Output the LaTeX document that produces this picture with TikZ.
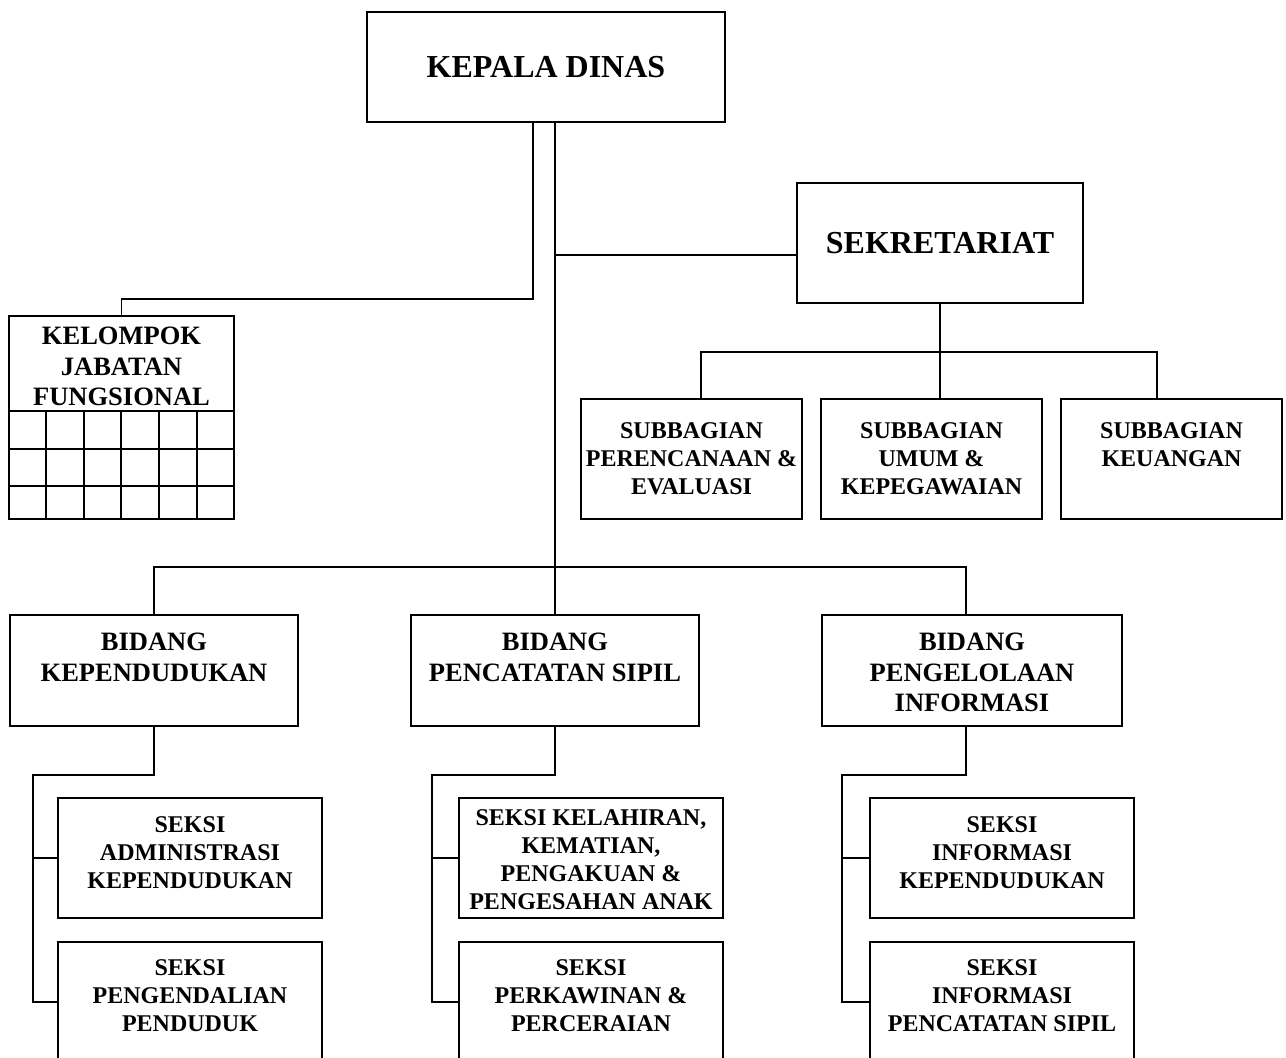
\documentclass[tikz,border=0pt]{standalone}
\usepackage{fontspec}
\setmainfont{Liberation Serif}
\begin{document}
\begin{tikzpicture}[x=1pt,y=-1pt,line width=1.8pt,
  orgbox/.style={draw,rectangle,inner sep=0pt},
  txt/.style={inner sep=0pt,align=center,anchor=north},
  bigfont/.style={font=\fontsize{32}{36}\selectfont\bfseries},
  midfont/.style={font=\fontsize{26.5}{30.5}\selectfont\bfseries},
  smallfont/.style={font=\fontsize{24}{27.7}\selectfont\bfseries}]

\clip (0,0) rectangle (1286,1058);

% head and secretariat
\node[orgbox,bigfont,minimum width=358pt,minimum height=110pt] (kd) at (546,67) {KEPALA DINAS};
\node[orgbox,bigfont,minimum width=286pt,minimum height=120pt] (sk) at (940,243) {SEKRETARIAT};

% functional group with its grid
\node[orgbox,minimum width=225pt,minimum height=203pt] (jf) at (121.5,417.5) {};
\node[txt,midfont] (jft) at ([yshift=-11pt]jf.north) {KELOMPOK\\JABATAN\\FUNGSIONAL};
\foreach \yy in {411,449,486} \draw (9,\yy) -- (234,\yy);
\foreach \xx in {46,84,121,159,197} \draw (\xx,411) -- (\xx,519);

% sub-sections of the secretariat
\node[orgbox,minimum width=221pt,minimum height=120pt] (sb1) at (691.5,459) {};
\node[orgbox,minimum width=221pt,minimum height=120pt] (sb2) at (931.5,459) {};
\node[orgbox,minimum width=221pt,minimum height=120pt] (sb3) at (1171.5,459) {};
\node[txt,smallfont] (sb1t) at ([yshift=-24pt]sb1.north) {SUBBAGIAN\\PERENCANAAN \&\\EVALUASI};
\node[txt,smallfont] (sb2t) at ([yshift=-24pt]sb2.north) {SUBBAGIAN\\UMUM \&\\KEPEGAWAIAN};
\node[txt,smallfont] (sb3t) at ([yshift=-24pt]sb3.north) {SUBBAGIAN\\KEUANGAN};

% divisions
\node[orgbox,minimum width=288pt,minimum height=111pt] (b1) at (154,670.5) {};
\node[orgbox,minimum width=288pt,minimum height=111pt] (b2) at (555,670.5) {};
\node[orgbox,minimum width=300pt,minimum height=111pt] (b3) at (972,670.5) {};
\node[txt,midfont] (b1t) at ([yshift=-18pt]b1.north) {BIDANG\\KEPENDUDUKAN};
\node[txt,midfont] (b2t) at ([yshift=-18pt]b2.north) {BIDANG\\PENCATATAN SIPIL};
\node[txt,midfont] (b3t) at ([yshift=-18pt]b3.north) {BIDANG\\PENGELOLAAN\\INFORMASI};

% sections
\node[orgbox,minimum width=264pt,minimum height=120pt] (s11) at (190,858) {};
\node[orgbox,minimum width=264pt,minimum height=120pt] (s12) at (190,1002) {};
\node[orgbox,minimum width=264pt,minimum height=120pt] (s21) at (591,858) {};
\node[orgbox,minimum width=264pt,minimum height=120pt] (s22) at (591,1002) {};
\node[orgbox,minimum width=264pt,minimum height=120pt] (s31) at (1002,858) {};
\node[orgbox,minimum width=264pt,minimum height=120pt] (s32) at (1002,1002) {};
\node[txt,smallfont] (s11t) at ([yshift=-19pt]s11.north) {SEKSI\\ADMINISTRASI\\KEPENDUDUKAN};
\node[txt,smallfont] (s12t) at ([yshift=-18pt]s12.north) {SEKSI\\PENGENDALIAN\\PENDUDUK};
\node[txt,smallfont] (s21t) at ([yshift=-12pt]s21.north) {SEKSI KELAHIRAN,\\KEMATIAN,\\PENGAKUAN \&\\PENGESAHAN ANAK};
\node[txt,smallfont] (s22t) at ([yshift=-18pt]s22.north) {SEKSI\\PERKAWINAN \&\\PERCERAIAN};
\node[txt,smallfont] (s31t) at ([yshift=-19pt]s31.north) {SEKSI\\INFORMASI\\KEPENDUDUKAN};
\node[txt,smallfont] (s32t) at ([yshift=-18pt]s32.north) {SEKSI\\INFORMASI\\PENCATATAN SIPIL};

% connectors from the head
\draw ([xshift=-13pt]kd.south) -- ++(0,176) -| (jf.north);
\coordinate (bus) at (555,567);
\draw ([xshift=9pt]kd.south) -- (bus);
\draw ([yshift=-12pt]sk.west) -- ++(-242,0);
\draw (b1.north) |- (bus) -| ([xshift=-6pt]b3.north);
\draw (bus) -- (b2.north);

% secretariat to its sub-sections
\draw (sk.south) -- ++(0,48) coordinate (sbus);
\draw ([xshift=9.5pt]sb1.north) |- (sbus) -| ([xshift=-14.5pt]sb3.north);
\draw (sbus) -- ([xshift=8.5pt]sb2.north);

% divisions to their sections
\draw (b1.south) -- ++(0,48) -| ([xshift=-24pt]s12.west) -- (s12.west);
\draw ([xshift=-24pt]s11.west) -- (s11.west);
\draw (b2.south) -- ++(0,48) -| ([xshift=-26pt]s22.west) -- (s22.west);
\draw ([xshift=-26pt]s21.west) -- (s21.west);
\draw ([xshift=-6pt]b3.south) -- ++(0,48) -| ([xshift=-27pt]s32.west) -- (s32.west);
\draw ([xshift=-27pt]s31.west) -- (s31.west);
\end{tikzpicture}
\end{document}
